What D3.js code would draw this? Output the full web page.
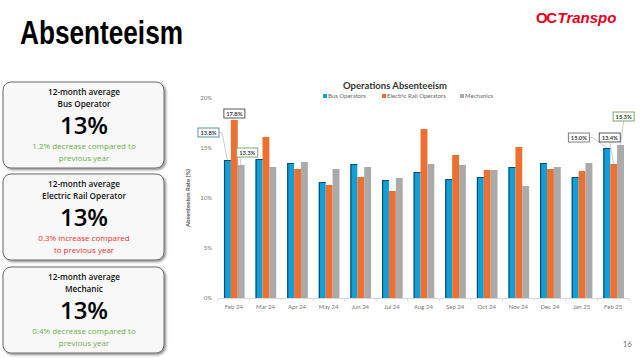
<!DOCTYPE html>
<html><head><meta charset="utf-8">
<script src="https://cdn.jsdelivr.net/npm/d3@7"></script>
<style>body{margin:0;background:#fff;}svg{display:block;}</style>
</head><body>
<svg id="c" width="640" height="358"></svg>
<script>
const months = ["Feb 24","Mar 24","Apr 24","May 24","Jun 24","Jul 24","Aug 24","Sep 24","Oct 24","Nov 24","Dec 24","Jan 25","Feb 25"];
const busOperators = [13.8,13.9,13.5,11.6,13.4,11.8,12.6,11.9,12.1,13.1,13.5,12.1,15.0];
const electricRail = [17.8,16.1,12.9,11.3,12.1,10.7,16.9,14.3,12.8,15.1,12.9,12.7,13.4];
const mechanics    = [13.3,13.1,13.6,12.9,13.1,12.0,13.4,13.3,12.8,11.2,13.1,13.5,15.3];
const seriesNames = ["Bus Operators","Electric Rail Operators","Mechanics"];
const yTicks = [0,5,10,15,20];
const cardTitles = ["Bus Operator","Electric Rail Operator","Mechanic"];
const cardValues = ["13%","13%","13%"];
const cardNotes = [["1.2%  decrease compared to","previous year"],["0.3% increase compared","to previous year"],["0.4% decrease compared to","previous year"]];
const cardNoteColors = ["#6ab04c","#f03030","#6ab04c"];

const colors = ["#109fd7","#ed7031","#aaaaaa"];
const series = [busOperators, electricRail, mechanics];
const svg = d3.select("#c");
const F = "Lato, 'Open Sans', sans-serif";

// Title
svg.append("text").attr("x",20).attr("y",44).attr("font-family","'Liberation Sans Narrow', 'Liberation Sans', Arial, sans-serif")
  .attr("font-weight","bold").attr("font-size",33).attr("fill","#000")
  .attr("textLength",163).attr("lengthAdjust","spacingAndGlyphs").text("Absenteeism");
// Logo
svg.append("text").attr("x",536).attr("y",23).attr("font-family","'Liberation Sans', Arial, sans-serif")
  .attr("font-weight","bold").attr("font-size",15).attr("fill","#e8001c").attr("font-style","italic")
  .html('<tspan font-weight="900" font-style="normal" letter-spacing="-1.5">OC</tspan><tspan dx="2">Transpo</tspan>');
// page number
svg.append("text").attr("x",632).attr("y",347).attr("text-anchor","end").attr("font-family",F).attr("font-size",8).attr("fill","#777").text("16");

// Cards
const defs = svg.append("defs");
const f = defs.append("filter").attr("id","sh").attr("x","-10%").attr("y","-10%").attr("width","130%").attr("height","130%");
f.append("feDropShadow").attr("dx",1.5).attr("dy",1.5).attr("stdDeviation",1.2).attr("flood-color","#000").attr("flood-opacity",0.45);
const cardTops = [82,174,267];
cardTitles.forEach((t,i)=>{
  const g = svg.append("g").attr("transform",`translate(3,${cardTops[i]})`);
  g.append("rect").attr("width",161).attr("height",86).attr("rx",8).attr("fill","#f8f8f8").attr("stroke","#6b6b6b").attr("stroke-width",1).attr("filter","url(#sh)");
  g.append("text").attr("x",81).attr("y",13).attr("text-anchor","middle").attr("font-family","'Open Sans', sans-serif").attr("font-weight","600").attr("font-size",8.2).attr("fill","#111").text("12-month average");
  g.append("text").attr("x",81).attr("y",25).attr("text-anchor","middle").attr("font-family","'Open Sans', sans-serif").attr("font-weight","600").attr("font-size",8.2).attr("fill","#111").text(t);
  g.append("text").attr("x",81).attr("y",52).attr("text-anchor","middle").attr("font-family","'Open Sans', sans-serif").attr("font-weight","600").attr("font-size",24).attr("fill","#000").text(cardValues[i]);
  cardNotes[i].forEach((ln,j)=>{
    g.append("text").attr("x",81).attr("y",67+j*11.5).attr("text-anchor","middle").attr("font-family","'Open Sans', sans-serif").attr("font-size",8).attr("fill",cardNoteColors[i]).text(ln);
  });
});

// Chart
const x0 = d3.scaleBand().domain(months).range([218,629]).paddingInner(0).paddingOuter(0);
const x1 = d3.scaleBand().domain(d3.range(3)).range([6, x0.bandwidth()-5]).padding(0);
const y = d3.scaleLinear().domain([0,20]).range([298,98]);

svg.append("text").attr("x",395).attr("y",89).attr("text-anchor","middle").attr("font-family",F).attr("font-weight","bold").attr("font-size",9.5).attr("fill","#333").text("Operations Absenteeism");

// legend
const legX = [323,382,460];
seriesNames.forEach((n,i)=>{
  svg.append("rect").attr("x",legX[i]).attr("y",94).attr("width",4).attr("height",4).attr("fill",colors[i]);
  svg.append("text").attr("x",legX[i]+5).attr("y",98).attr("font-family",F).attr("font-size",6).attr("fill","#666").text(n);
});

// y axis
const ya = svg.append("g").attr("transform","translate(212,0)")
  .call(d3.axisLeft(y).tickValues(yTicks).tickFormat(d=>d+"%").tickSize(0).tickPadding(0));
ya.select(".domain").remove();
ya.selectAll("text").attr("font-family",F).attr("font-size",6).attr("fill","#777");
svg.append("text").attr("transform","translate(190,198) rotate(-90)").attr("text-anchor","middle")
  .attr("font-family",F).attr("font-size",6).attr("font-weight","bold").attr("fill","#555").text("Absenteeism Rate (%)");

// bars
series.forEach((s,si)=>{
  svg.append("g").selectAll("rect").data(s).join("rect")
    .attr("x",(d,i)=>x0(months[i])+x1(si))
    .attr("y",d=>y(d))
    .attr("width",x1.bandwidth())
    .attr("height",d=>y(0)-y(d))
    .attr("fill",colors[si]);
});
// dark edge on blue bars
svg.append("g").selectAll("path").data(busOperators).join("path")
  .attr("d",(d,i)=>{const xx=x0(months[i])+x1(0)+0.5;return `M${xx},${y(0)}V${y(d)+0.5}H${xx+x1.bandwidth()-0.5}`;})
  .attr("fill","none").attr("stroke","#0b4e73").attr("stroke-width",1.2);

// x axis
const xa = svg.append("g").attr("transform","translate(0,298)").call(d3.axisBottom(x0).tickSize(0).tickPadding(7));
xa.select(".domain").attr("stroke","#d9d9d9");
xa.selectAll("text").attr("font-family",F).attr("font-size",6).attr("fill","#777");
svg.append("g").selectAll("line").data(months.concat(["end"])).join("line")
  .attr("x1",(d,i)=>x0.range()[0]+i*x0.step()).attr("x2",(d,i)=>x0.range()[0]+i*x0.step())
  .attr("y1",298).attr("y2",301).attr("stroke","#d9d9d9");

// data labels (Feb 24 and Feb 25) with offsets relative to bar tops
const labels = [
  {m:0,s:1,dx:-7,dy:-11,stroke:"#595959"},
  {m:0,s:0,dx:-26,dy:-32,stroke:"#5a8ea8",ax:"r"},
  {m:0,s:2,dx:-1,dy:-17,stroke:"#79a96a",ax:"l"},
  {m:12,s:0,dx:-35,dy:-15,stroke:"#7f7f7f",ax:"r"},
  {m:12,s:1,dx:-11,dy:-31,stroke:"#595959",ax:"b"},
  {m:12,s:2,dx:-4,dy:-33,stroke:"#79a96a",ax:"b"}
];
labels.forEach(L=>{
  const v = series[L.s][L.m];
  const bx = x0(months[L.m])+x1(L.s), bw = x1.bandwidth(), by = y(v);
  const lx = bx+L.dx, ly = by+L.dy, w=21, h=9;
  if(L.ax){
    let sx, sy, mx, my;
    if(L.ax==="r"){sx=lx+w; sy=ly+h/2; mx=sx+3; my=sy;}
    else if(L.ax==="l"){sx=lx+3; sy=ly+h; mx=sx; my=sy;}
    else {sx=lx+w/2; sy=ly+h; mx=sx; my=sy;}
    svg.append("polyline").attr("points",`${sx},${sy} ${mx},${my} ${bx+bw/2},${by}`)
      .attr("fill","none").attr("stroke","#a6a6a6").attr("stroke-width",0.6);
  }
  svg.append("rect").attr("x",lx).attr("y",ly).attr("width",w).attr("height",h).attr("fill","#fff").attr("stroke",L.stroke).attr("stroke-width",1);
  svg.append("text").attr("x",lx+w/2).attr("y",ly+6.6).attr("text-anchor","middle").attr("font-family",F).attr("font-weight","bold").attr("font-size",5.8).attr("fill","#404040").text(v.toFixed(1)+"%");
});
</script>
</body></html>
